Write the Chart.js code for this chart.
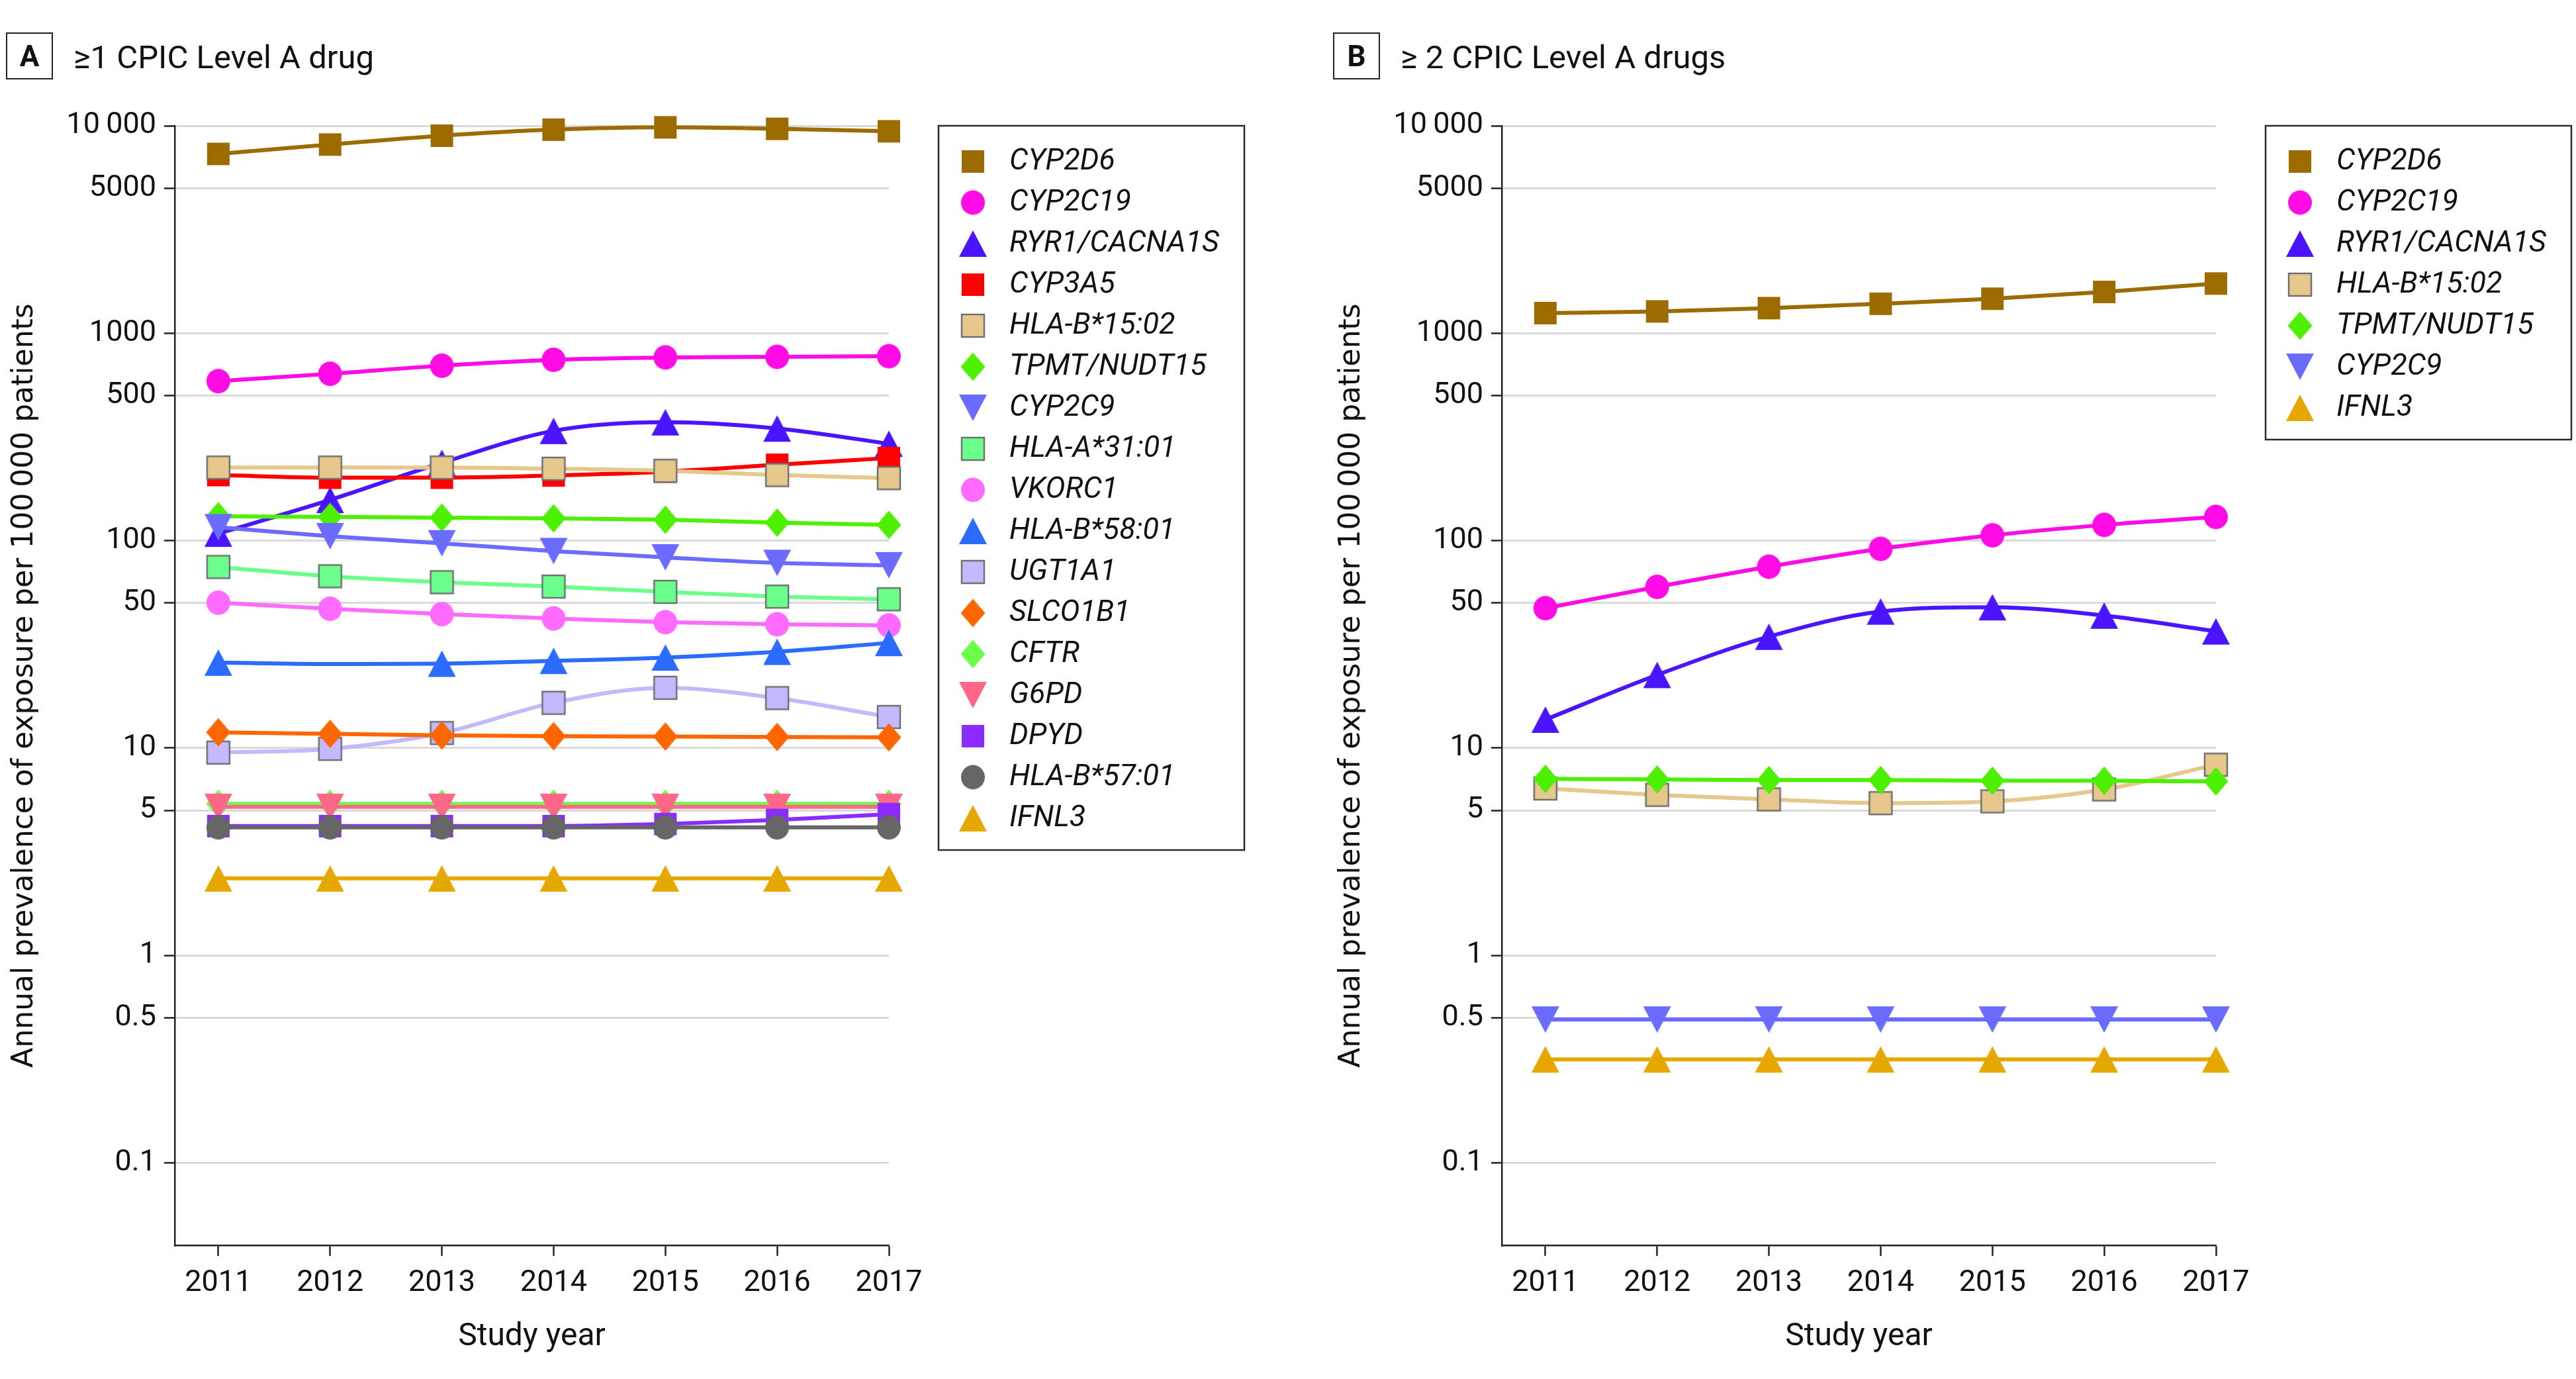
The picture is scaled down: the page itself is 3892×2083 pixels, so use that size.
<!DOCTYPE html>
<html>
<head>
<meta charset="utf-8">
<script src="https://cdn.jsdelivr.net/npm/chart.js@4/dist/chart.umd.min.js"></script>
<style>
  html, body { margin: 0; padding: 0; background: #fff; }
  body { width: 3892px; height: 2083px; position: relative; overflow: hidden; font-family: Roboto, sans-serif; color: #111; }
  .panel { position: absolute; top: 0; height: 2083px; }
  .panel canvas { position: absolute; left: 0; top: 0; }
  .tag { position: absolute; left: 9px; top: 49px; width: 67px; height: 67px; border: 2.5px solid #222;
         font: bold 44px Roboto; display: flex; align-items: center; justify-content: center; }
  .heading { position: absolute; left: 111px; top: 58px; font: 49px Roboto; line-height: 58px; white-space: nowrap; }
</style>
</head>
<body>
<div class="panel" style="left:0;width:2005px">
  <canvas id="chartA" width="2005" height="2083"></canvas>
  <div class="tag">A</div>
  <div class="heading">≥1 CPIC Level A drug</div>
</div>
<div class="panel" style="left:2005px;width:1887px">
  <canvas id="chartB" width="1887" height="2083"></canvas>
  <div class="tag">B</div>
  <div class="heading">≥ 2 CPIC Level A drugs</div>
</div>
<script>
// study years and log axis ticks
const years = [2011, 2012, 2013, 2014, 2015, 2016, 2017];
const yTickValues = [0.1, 0.5, 1, 5, 10, 50, 100, 500, 1000, 5000, 10000];
const yTickLabels = ["0.1", "0.5", "1", "5", "10", "50", "100", "500", "1000", "5000", "10\u2009000"];

// panel A: >=1 CPIC level A drug (per 100 000 patients)
const genesA = ["CYP2D6", "CYP2C19", "RYR1/CACNA1S", "CYP3A5", "HLA-B*15:02", "TPMT/NUDT15", "CYP2C9",
  "HLA-A*31:01", "VKORC1", "HLA-B*58:01", "UGT1A1", "SLCO1B1", "CFTR", "G6PD", "DPYD", "HLA-B*57:01", "IFNL3"];
const cyp2d6A = [7320, 8120, 8960, 9580, 9830, 9670, 9410];
const cyp2c19A = [587, 637, 697, 744, 764, 769, 774];
const ryr1A = [108, 157, 237, 338, 372, 347, 293];
const cyp3a5A = [207, 201, 201, 206, 215, 232, 250];
const hlab1502A = [225, 225, 225, 222, 217, 207, 200];
const tpmtA = [131, 130, 129, 128, 126, 122, 119];
const cyp2c9A = [116, 105, 97, 89, 83, 78, 76];
const hlaa3101A = [74.6, 67.3, 63, 60, 56.6, 53.7, 52.1];
const vkorc1A = [50.2, 46.9, 44.2, 42.1, 40.4, 39.5, 39.0];
const hlab5801A = [25.8, 25.4, 25.5, 26.3, 27.3, 29.1, 32.1];
const ugt1a1A = [9.5, 9.9, 11.8, 16.5, 19.5, 17.4, 14.1];
const slco1b1A = [11.9, 11.7, 11.5, 11.4, 11.35, 11.3, 11.25];
const cftrA = [5.38, 5.38, 5.38, 5.38, 5.38, 5.38, 5.38];
const g6pdA = [5.2, 5.2, 5.2, 5.2, 5.2, 5.2, 5.2];
const dpydA = [4.2, 4.2, 4.2, 4.2, 4.3, 4.5, 4.8];
const hlab5701A = [4.14, 4.14, 4.14, 4.14, 4.14, 4.14, 4.14];
const ifnl3A = [2.35, 2.35, 2.35, 2.35, 2.35, 2.35, 2.35];

// panel B: >=2 CPIC level A drugs
const genesB = ["CYP2D6", "CYP2C19", "RYR1/CACNA1S", "HLA-B*15:02", "TPMT/NUDT15", "CYP2C9", "IFNL3"];
const cyp2d6B = [1250, 1273, 1321, 1386, 1466, 1581, 1735];
const cyp2c19B = [47.2, 59.8, 74.8, 91.2, 106, 119, 130];
const ryr1B = [13.7, 22.5, 34.4, 45.5, 47.7, 43.5, 36.5];
const hlab1502B = [6.38, 5.94, 5.65, 5.42, 5.53, 6.31, 8.3];
const tpmtB = [7.1, 7.05, 7.0, 7.0, 6.95, 6.95, 6.9];
const cyp2c9B = [0.49, 0.49, 0.49, 0.49, 0.49, 0.49, 0.49];
const ifnl3B = [0.315, 0.315, 0.315, 0.315, 0.315, 0.315, 0.315];

const valuesA = [cyp2d6A, cyp2c19A, ryr1A, cyp3a5A, hlab1502A, tpmtA, cyp2c9A, hlaa3101A, vkorc1A,
  hlab5801A, ugt1a1A, slco1b1A, cftrA, g6pdA, dpydA, hlab5701A, ifnl3A];
const valuesB = [cyp2d6B, cyp2c19B, ryr1B, hlab1502B, tpmtB, cyp2c9B, ifnl3B];

// look of each gene (same in both panels)
const geneStyle = {
  "CYP2D6": { color: "#9c6c00", shape: "square" },
  "CYP2C19": { color: "#ff0be6", shape: "circle" },
  "RYR1/CACNA1S": { color: "#4a14ff", shape: "up" },
  "CYP3A5": { color: "#ff0000", shape: "square" },
  "HLA-B*15:02": { color: "#e6c78c", shape: "square", edge: "#707070" },
  "TPMT/NUDT15": { color: "#4cf000", shape: "diamond" },
  "CYP2C9": { color: "#6b6bff", shape: "down" },
  "HLA-A*31:01": { color: "#6bff8c", shape: "square", edge: "#707070" },
  "VKORC1": { color: "#ff6bff", shape: "circle" },
  "HLA-B*58:01": { color: "#2b6bff", shape: "up", skipYears: [2012] },
  "UGT1A1": { color: "#c4b8ff", shape: "square", edge: "#707070" },
  "SLCO1B1": { color: "#ff6600", shape: "diamond" },
  "CFTR": { color: "#6bff4c", shape: "diamond" },
  "G6PD": { color: "#ff6688", shape: "down" },
  "DPYD": { color: "#8c2bff", shape: "square" },
  "HLA-B*57:01": { color: "#666666", shape: "circle" },
  "IFNL3": { color: "#e6a800", shape: "up" },
};

Chart.defaults.font.family = "Roboto";
Chart.defaults.color = "#111";

// draw a marker into a small canvas so it is centred on its box
const makeMarker = (shape, fill, edge) => {
  const dims = { square: [34, 34], circle: [36, 37], up: [42, 40], down: [42, 40], diamond: [37, 43] }[shape];
  const [w, h] = dims;
  const m = 3;
  const c = document.createElement("canvas");
  c.width = w + 2 * m;
  c.height = h + 2 * m;
  const g = c.getContext("2d");
  g.beginPath();
  if (shape === "square") {
    g.rect(m, m, w, h);
  } else if (shape === "circle") {
    g.ellipse(m + w / 2, m + h / 2, w / 2, h / 2, 0, 0, Math.PI * 2);
  } else if (shape === "up") {
    g.moveTo(m, m + h); g.lineTo(m + w / 2, m); g.lineTo(m + w, m + h); g.closePath();
  } else if (shape === "down") {
    g.moveTo(m, m); g.lineTo(m + w / 2, m + h); g.lineTo(m + w, m); g.closePath();
  } else {
    g.moveTo(m + w / 2, m); g.lineTo(m + w, m + h / 2); g.lineTo(m + w / 2, m + h); g.lineTo(m, m + h / 2); g.closePath();
  }
  g.fillStyle = fill;
  g.fill();
  if (edge) {
    g.lineWidth = 2.5;
    g.strokeStyle = edge;
    g.stroke();
  }
  return c;
};

// boxed legend in the right margin of each panel
const boxLegend = {
  id: "boxLegend",
  afterDraw(chart) {
    const ctx = chart.ctx;
    const sets = chart.data.datasets;
    const left = 1418, top = 190, width = 462, rowH = 62;
    const height = 54 + (sets.length - 1) * rowH + 48;
    ctx.save();
    ctx.strokeStyle = "#2a2a2a";
    ctx.lineWidth = 2.5;
    ctx.strokeRect(left, top, width, height);
    ctx.font = "italic 45px Roboto";
    ctx.textBaseline = "middle";
    ctx.fillStyle = "#111";
    sets.forEach((ds, i) => {
      const y = top + 54 + i * rowH;
      const img = ds.pointStyle;
      ctx.drawImage(img, left + 52 - img.width / 2, y - img.height / 2);
      ctx.fillText(ds.label, left + 107, y + 1);
    });
    ctx.restore();
  },
};

const make_chart = (canvas_id, genes, values) => {
  const datasets = genes.map((gene, i) => {
    const st = geneStyle[gene];
    const skip = st.skipYears || [];
    return {
      label: gene,
      data: years.map((yr, k) => ({ x: yr, y: values[i][k] })),
      borderColor: st.color,
      backgroundColor: st.color,
      borderWidth: 6,
      cubicInterpolationMode: "monotone",
      pointStyle: makeMarker(st.shape, st.color, st.edge),
      pointRadius: years.map((yr) => (skip.includes(yr) ? 0 : 20)),
      pointHoverRadius: 20,
      clip: false,
      order: genes.length - i,
    };
  });

  const canvas = document.getElementById(canvas_id);
  return new Chart(canvas.getContext("2d"), {
    type: "line",
    data: { datasets },
    plugins: [boxLegend],
    options: {
      responsive: false,
      animation: false,
      devicePixelRatio: 1,
      events: [],
      layout: { padding: { top: 190, right: canvas.width - 1343, bottom: 0, left: 0 } },
      plugins: { legend: { display: false }, tooltip: { enabled: false } },
      scales: {
        x: {
          type: "linear",
          min: 2010.61,
          max: 2017,
          bounds: "data",
          afterBuildTicks: (scale) => { scale.ticks = years.map((v) => ({ value: v })); },
          afterFit: (scale) => { scale.height = 202; },
          grid: { drawOnChartArea: false, tickLength: 16, tickColor: "#222", tickWidth: 2.5 },
          border: { color: "#222", width: 2.5 },
          ticks: { font: { size: 45 }, color: "#111", padding: 15, maxRotation: 0, autoSkip: false,
                   callback: (v) => String(v) },
          title: { display: true, text: "Study year", font: { size: 48 }, color: "#111",
                   padding: { top: 0, bottom: 34 } },
        },
        y: {
          type: "logarithmic",
          min: 0.04,
          max: 10000,
          bounds: "data",
          afterBuildTicks: (scale) => { scale.ticks = yTickValues.map((v) => ({ value: v })); },
          afterFit: (scale) => { scale.width = 264; },
          grid: { color: "#d9d9d9", lineWidth: 3, tickColor: "#222", tickWidth: 2.5, tickLength: 16 },
          border: { color: "#222", width: 2.5 },
          ticks: { font: { size: 45 }, color: "#111", padding: 12, autoSkip: false,
                   callback: (v, idx) => yTickLabels[idx] },
          title: { display: true, text: "Annual prevalence of exposure per 100\u2009000 patients",
                   font: { family: "'DejaVu Sans'", size: 44 }, color: "#111", padding: { top: 11, bottom: 0 } },
        },
      },
    },
  });
};

make_chart("chartA", genesA, valuesA);
make_chart("chartB", genesB, valuesB);
</script>
</body>
</html>
